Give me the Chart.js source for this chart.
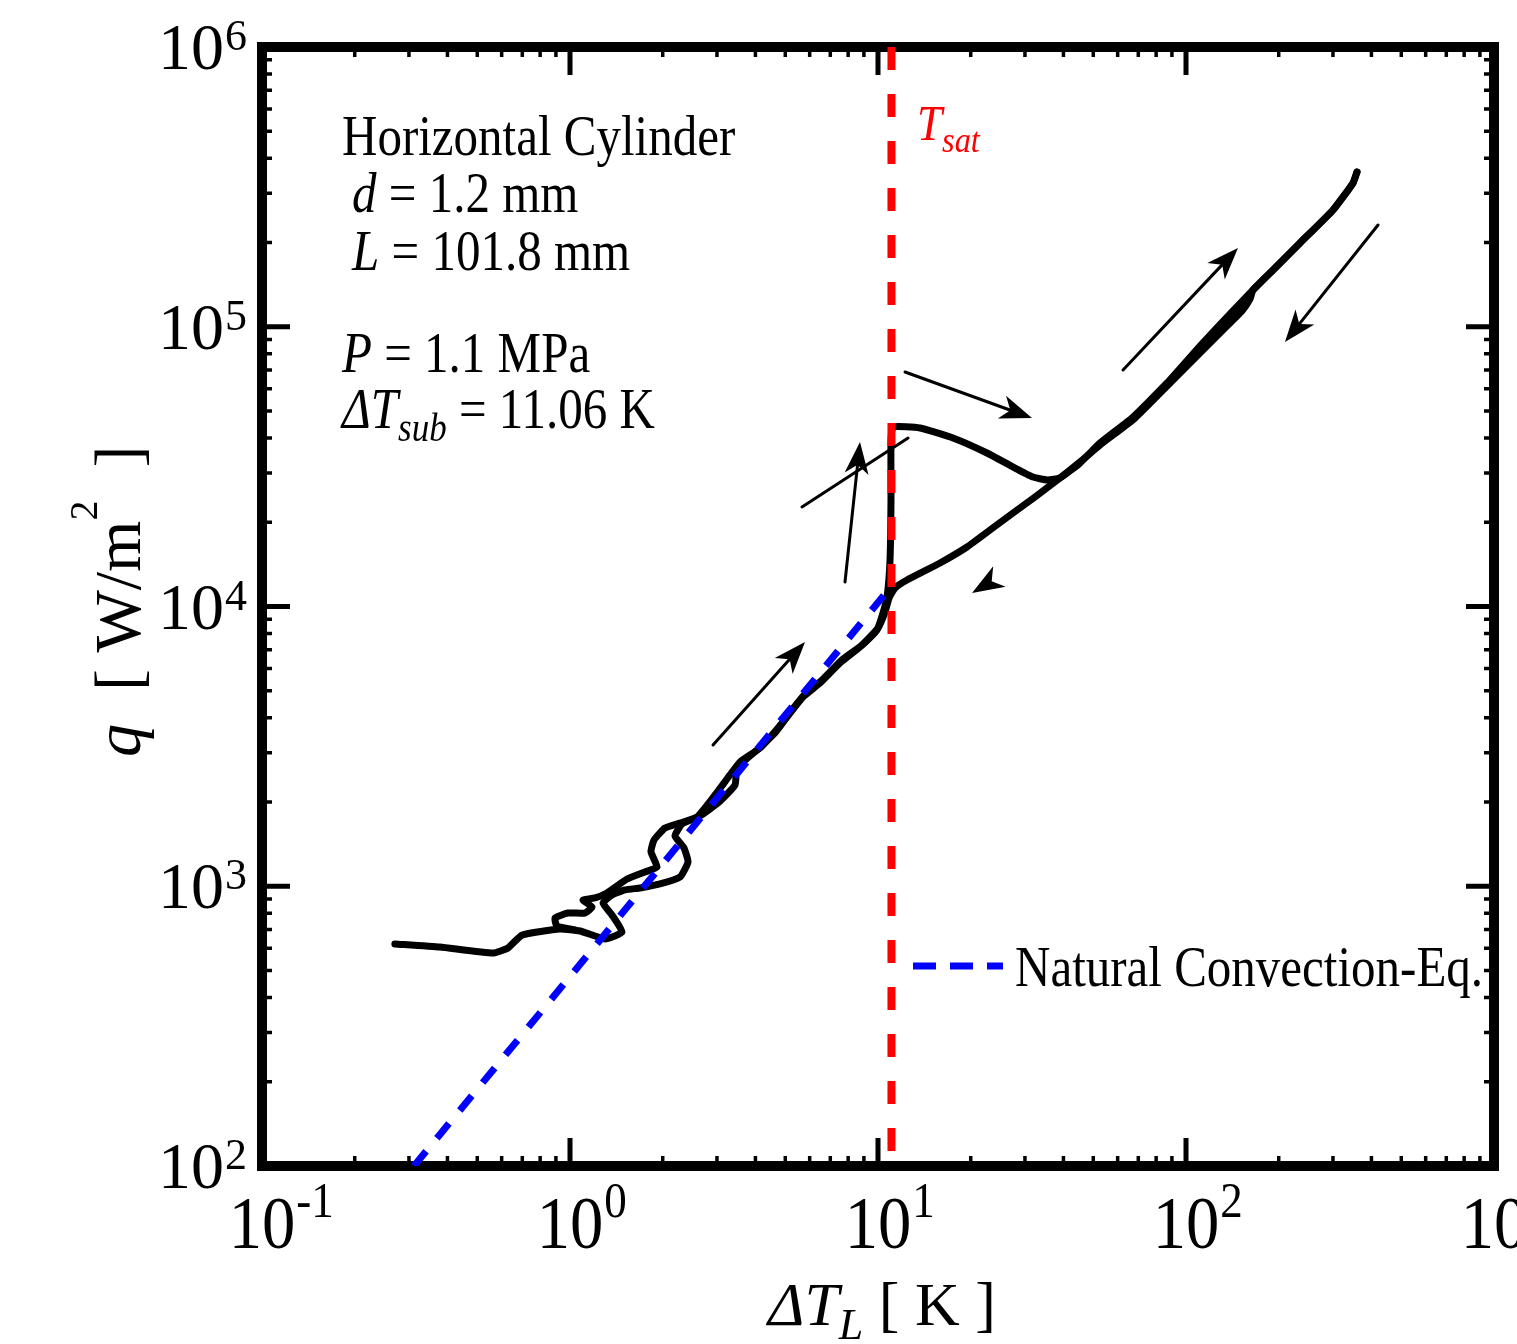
<!DOCTYPE html>
<html><head><meta charset="utf-8">
<script src="https://cdn.jsdelivr.net/npm/chart.js@4.4.1/dist/chart.umd.min.js"></script>
<style>html,body{margin:0;padding:0;background:#fff;}canvas{display:block;}</style>
</head><body>
<canvas id="c" width="1517" height="1344"></canvas>
<script>
// ---- tick exponents ----
const xTickExps = [-1, 0, 1, 2, 3];
const yTickExps = [2, 3, 4, 5, 6];

// ---- heating path (increasing heat flux) ----
const heatX = [0.270,0.378,0.562,0.629,0.699,0.928,1.078,1.299,1.475,1.369,1.280,1.369,1.509,1.688,1.960,2.276,2.416,2.345,2.192,2.310,2.643,3.024,3.434,3.485,4.047,4.630,5.179,5.707,6.481,7.527,8.741,9.926,10.38,10.70,10.94,11.02,11.02,11.19,13.69,17.52,22.59,27.44,31.86,35.39,38.98,45.26,52.58,67.28,86.76,111.0,139.0,165.0,191.7,234.5,300.2,348.5,359.1];
const heatY = [622,606,577,602,669,703,692,648,686,789,871,930,970,986,1019,1079,1221,1370,1512,1669,1783,1985,2301,2647,3069,3530,4161,4748,5326,6281,7165,8241,9480,10815,14660,24030,39380,43820,43460,40020,35380,31530,29030,28330,28800,32580,38410,47570,62930,85330,111100,135300,159600,199300,261500,326400,357400];

// ---- cooling path (decreasing heat flux) ----
const coolX = [359.1,348.5,300.2,234.5,191.7,165.0,161.4,152.0,133.8,111.0,88.75,68.30,52.58,45.26,38.98,32.34,27.44,23.10,19.45,15.90,12.42,11.36,10.86,10.54,10.00,8.872,7.641,6.579,5.794,5.258,4.735,4.140,3.564,3.307,2.957,2.584,2.276,2.034,1.874,1.832,1.917,1.752,1.532,1.318,1.206,1.102,1.179,1.118,0.985,0.894,0.907,1.038];
const coolY = [357400,326400,261500,199300,159600,135300,125700,113800,99000,80590,62930,47180,37780,32850,28800,24620,21590,18770,16320,14310,12440,11650,10720,9557,8377,7284,6440,5460,4866,4266,3679,3120,2781,2499,2120,1768,1683,1615,1463,1326,1172,1125,1061,946,908,893,843,802,802,770,721,698];

// ---- natural convection correlation line ----
const natX = [0.3115, 10.54];
const natY = [100, 11090];

// ---- saturation line (ΔT_L = ΔT_sub = 11.06 K) ----
const tsatX = [11.06, 11.06];
const tsatY = [1e6, 100];

// ---- arrows: kind 1 = arrow, 0 = plain line, 2 = head only ----
const arrowTailX = [2.913, 7.814, 5.665, 12.24, 62.45, 420.2, 23.45];
const arrowTailY = [3198, 12235, 22680, 68900, 70050, 231000, 12340];
const arrowHeadX = [5.794, 8.741, 12.52, 31.62, 147.5, 209.6, 20.2];
const arrowHeadY = [7465, 38730, 40020, 47180, 191200, 88200, 11170];
const arrowKind  = [1, 1, 0, 1, 1, 1, 2];

const SERIF = '"Liberation Serif", "Times New Roman", Times, serif';
function fontStr(size, italic) { return (italic ? 'italic ' : '') + size + 'px ' + SERIF; }
function drawRich(ctx, x, y, parts, sx) {
  let cx = x;
  for (const p of parts) {
    ctx.save();
    ctx.font = fontStr(p[1], p[2]);
    ctx.fillStyle = p[4] || '#000';
    ctx.textBaseline = 'alphabetic';
    ctx.textAlign = 'left';
    ctx.translate(cx, y + (p[3] || 0));
    ctx.scale(sx, 1);
    ctx.fillText(p[0], 0, 0);
    ctx.restore();
    ctx.font = fontStr(p[1], p[2]);
    cx += ctx.measureText(p[0]).width * sx;
  }
  return cx;
}
function textWidth(ctx, t, size, italic, sx) {
  ctx.save(); ctx.font = fontStr(size, italic); const w = ctx.measureText(t).width * sx; ctx.restore(); return w;
}

const pts = (xs, ys) => xs.map((v, i) => ({ x: v, y: ys[i] }));

const framePlugin = {
  id: 'frame',
  beforeDatasetsDraw(chart) {
    const { ctx, chartArea: a, scales: { x, y } } = chart;
    ctx.save();
    ctx.strokeStyle = '#000';
    ctx.lineCap = 'butt';
    const minorLen = 10, majorLen = 28;
    for (let k = 0; k < xTickExps.length; k++) {
      const e = xTickExps[k];
      const maxM = k === xTickExps.length - 1 ? 1 : 9;
      for (let m = 1; m <= maxM; m++) {
        const px = x.getPixelForValue(m * Math.pow(10, e));
        const L = m === 1 ? majorLen : minorLen;
        ctx.lineWidth = m === 1 ? 5 : 3.5;
        ctx.beginPath();
        ctx.moveTo(px, a.bottom); ctx.lineTo(px, a.bottom - L);
        ctx.moveTo(px, a.top); ctx.lineTo(px, a.top + L);
        ctx.stroke();
      }
    }
    for (let k = 0; k < yTickExps.length; k++) {
      const e = yTickExps[k];
      const maxM = k === yTickExps.length - 1 ? 1 : 9;
      for (let m = 1; m <= maxM; m++) {
        const py = y.getPixelForValue(m * Math.pow(10, e));
        const L = m === 1 ? majorLen : minorLen;
        ctx.lineWidth = m === 1 ? 5 : 3.5;
        ctx.beginPath();
        ctx.moveTo(a.left, py); ctx.lineTo(a.left + L, py);
        ctx.moveTo(a.right, py); ctx.lineTo(a.right - L, py);
        ctx.stroke();
      }
    }
    ctx.lineWidth = 10;
    ctx.lineJoin = 'miter';
    ctx.strokeRect(a.left, a.top, a.right - a.left, a.bottom - a.top);
    ctx.restore();
  }
};

function drawArrow(ctx, x0, y0, x1, y1, kind) {
  const ang = Math.atan2(y1 - y0, x1 - x0);
  const c = Math.cos(ang), s = Math.sin(ang);
  const L = 32, W = 12, back = 23;
  ctx.lineWidth = 3;
  ctx.lineCap = 'round';
  if (kind === 0) {
    ctx.beginPath(); ctx.moveTo(x0, y0); ctx.lineTo(x1, y1); ctx.stroke();
    return;
  }
  if (kind === 1) {
    ctx.beginPath(); ctx.moveTo(x0, y0);
    ctx.lineTo(x1 - c * back * 0.8, y1 - s * back * 0.8); ctx.stroke();
  }
  ctx.beginPath();
  ctx.moveTo(x1, y1);
  ctx.lineTo(x1 - c * L - s * W, y1 - s * L + c * W);
  ctx.lineTo(x1 - c * back, y1 - s * back);
  ctx.lineTo(x1 - c * L + s * W, y1 - s * L - c * W);
  ctx.closePath();
  ctx.fill();
}

const textPlugin = {
  id: 'texts',
  afterDatasetsDraw(chart) {
    const { ctx, scales: { x, y } } = chart;
    ctx.save();
    ctx.fillStyle = '#000'; ctx.strokeStyle = '#000';
    for (let i = 0; i < arrowKind.length; i++) {
      drawArrow(ctx, x.getPixelForValue(arrowTailX[i]), y.getPixelForValue(arrowTailY[i]),
        x.getPixelForValue(arrowHeadX[i]), y.getPixelForValue(arrowHeadY[i]), arrowKind[i]);
    }
    for (const e of yTickExps) {
      const py = y.getPixelForValue(Math.pow(10, e));
      const w = textWidth(ctx, '10', 66, false, 1);
      drawRich(ctx, 224 - w, py + 22, [['10', 66, false]], 1);
      drawRich(ctx, 225, py + 3, [[String(e), 44, false]], 1);
    }
    for (const e of xTickExps) {
      const px = x.getPixelForValue(Math.pow(10, e));
      const w = textWidth(ctx, '10', 74, false, 0.9);
      drawRich(ctx, px - w / 2, 1248, [['10', 74, false]], 0.9);
      drawRich(ctx, px + w / 2 + 1, 1217, [[e < 0 ? '-' + (-e) : String(e), 50, false]], 0.9);
    }
    drawRich(ctx, 768, 1325, [['Δ', 62, true], ['T', 62, true], ['L', 44, true, 14], [' [ K ]', 62, false]], 1);
    ctx.save();
    ctx.translate(140, 757);
    ctx.rotate(-Math.PI / 2);
    drawRich(ctx, 0, 0, [['q', 66, true], ['  [ W/m', 66, false], ['2', 40, false, -43], ['  ]', 66, false]], 1);
    ctx.restore();
    const S = 56, SX = 0.875;
    drawRich(ctx, 342, 155, [['Horizontal Cylinder', S, false]], SX);
    drawRich(ctx, 352, 212, [['d', S, true], [' = 1.2 mm', S, false]], SX);
    drawRich(ctx, 352, 270, [['L', S, true], [' = 101.8 mm', S, false]], SX);
    drawRich(ctx, 342, 372, [['P', S, true], [' = 1.1 MPa', S, false]], SX);
    drawRich(ctx, 342, 428, [['ΔT', S, true], ['sub', 40, true, 13], [' = 11.06 K', S, false]], SX);
    drawRich(ctx, 917, 140, [['T', 50, true, 0, '#ff0000'], ['sat', 36, true, 12, '#ff0000']], 0.9);
    ctx.save();
    ctx.strokeStyle = '#0000ff'; ctx.lineWidth = 7; ctx.setLineDash([23, 14]); ctx.lineCap = 'butt';
    ctx.beginPath(); ctx.moveTo(913, 966); ctx.lineTo(1003, 966); ctx.stroke();
    ctx.restore();
    drawRich(ctx, 1015, 986, [['Natural Convection-Eq.', S, false]], SX);
    ctx.restore();
  }
};

new Chart(document.getElementById('c').getContext('2d'), {
  type: 'scatter',
  data: {
    datasets: [
      { label: 'T_sat', data: pts(tsatX, tsatY), showLine: true, borderColor: '#ff0000', borderWidth: 8, borderDash: [23, 24], pointRadius: 0, clip: false, order: 0 },
      { label: 'Natural Convection-Eq.', data: pts(natX, natY), showLine: true, borderColor: '#0000ff', borderWidth: 7, borderDash: [19, 17], pointRadius: 0, order: 1 },
      { label: 'heating', data: pts(heatX, heatY), showLine: true, borderColor: '#000', borderWidth: 7, tension: 0.15, pointRadius: 0, borderJoinStyle: 'round', borderCapStyle: 'round', order: 2 },
      { label: 'cooling', data: pts(coolX, coolY), showLine: true, borderColor: '#000', borderWidth: 7, tension: 0.15, pointRadius: 0, borderJoinStyle: 'round', borderCapStyle: 'round', order: 3 }
    ]
  },
  options: {
    responsive: false,
    animation: false,
    devicePixelRatio: 1,
    layout: { padding: { left: 262, right: 23, top: 47, bottom: 178 } },
    scales: {
      x: { type: 'logarithmic', min: 0.1, max: 1000, display: false },
      y: { type: 'logarithmic', min: 100, max: 1e6, display: false }
    },
    plugins: { legend: { display: false }, tooltip: { enabled: false } },
    elements: { point: { radius: 0 } }
  },
  plugins: [framePlugin, textPlugin]
});
</script>
</body></html>
